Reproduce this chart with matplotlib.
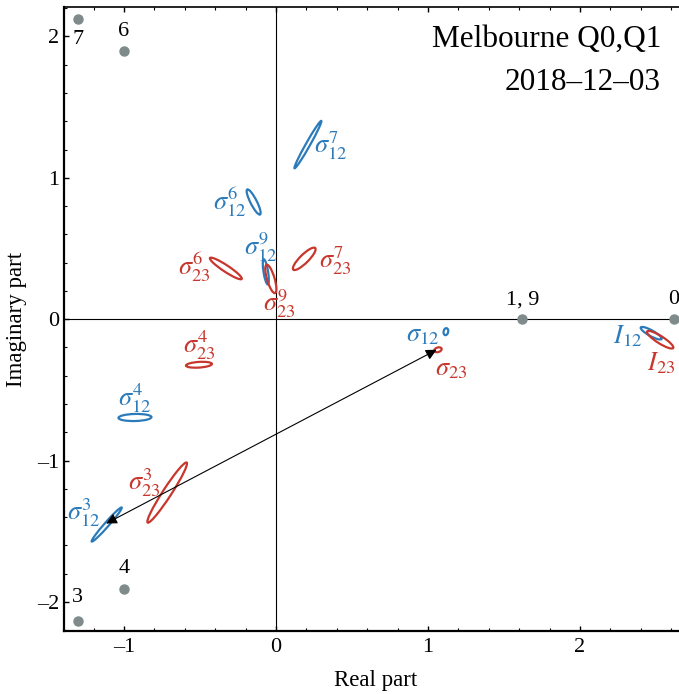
import numpy as np
import matplotlib
matplotlib.use('Agg')
import matplotlib.pyplot as plt
from matplotlib.patches import Ellipse

plt.rcParams['font.family'] = ['Liberation Serif', 'DejaVu Serif']
plt.rcParams['mathtext.fontset'] = 'stix'

#%% data
# reference points (gray dots)
pt_names = ['7', '6', '4', '3', '1, 9', '0']
pt_re = [-1.305, -1.0, -1.0, -1.305, 1.618, 2.618]
pt_im = [2.125, 1.895, -1.905, -2.135, 0.0, 0.0]

# sigma_12 group (blue): centre, major length, minor length, angle (deg)
b_names = [r'$\sigma_{12}^{7}$', r'$\sigma_{12}^{6}$', r'$\sigma_{12}^{9}$',
           r'$\sigma_{12}^{4}$', r'$\sigma_{12}^{3}$', r'$\sigma_{12}$', r'$I_{12}$']
b_re = [0.21, -0.147, -0.067, -0.928, -1.114, 1.118, 2.469]
b_im = [1.235, 0.829, 0.335, -0.695, -1.452, -0.088, -0.099]
b_len = [0.378, 0.196, 0.179, 0.217, 0.311, 0.05, 0.159]
b_wid = [0.028, 0.042, 0.03, 0.05, 0.03, 0.03, 0.04]
b_ang = [62.3, -64.7, -81.6, 1.5, 50.7, 80.0, -31.0]

# sigma_23 group (red)
r_names = [r'$\sigma_{23}^{7}$', r'$\sigma_{23}^{6}$', r'$\sigma_{23}^{9}$',
           r'$\sigma_{23}^{4}$', r'$\sigma_{23}^{3}$', r'$\sigma_{23}$', r'$I_{23}$']
r_re = [0.186, -0.33, -0.034, -0.507, -0.716, 1.066, 2.528]
r_im = [0.427, 0.359, 0.285, -0.322, -1.226, -0.216, -0.145]
r_len = [0.21, 0.256, 0.208, 0.171, 0.496, 0.05, 0.2075]
r_wid = [0.058, 0.045, 0.05, 0.04, 0.058, 0.032, 0.05]
r_ang = [47.0, -35.5, -74.7, 4.0, 58.9, 20.0, -34.5]

# label positions
pt_lab_x = [-1.305, -1.0, -1.0, -1.305, 1.625, 2.618]
pt_lab_y = [1.978, 2.036, -1.766, -1.97, 0.138, 0.138]
b_lab_x = [0.362, -0.303, -0.1, -0.928, -1.268, 0.967, 2.312]
b_lab_y = [1.228, 0.824, 0.506, -0.556, -1.37, -0.12, -0.12]
r_lab_x = [0.388, -0.539, 0.02, -0.507, -0.868, 1.156, 2.533]
r_lab_y = [0.418, 0.364, 0.113, -0.184, -1.157, -0.36, -0.31]

arrow_from = (-1.118, -1.445)
arrow_to = (1.057, -0.216)

xtick_vals = [-1, 0, 1, 2]
ytick_vals = [-2, -1, 0, 1, 2]

blue = '#2b7bba'
red = '#c8372d'
gray = '#7f8b8b'

#%% figure
fig = plt.figure(figsize=(6.79, 6.94), dpi=100)
ax = fig.add_axes([64/679, 63/694, 1 - 64/679, (631 - 7.3)/694])

ax.axhline(0, color='black', lw=0.8, zorder=1)
ax.axvline(0, color='black', lw=0.8, zorder=1)

ax.plot(pt_re, pt_im, 'o', color=gray, ms=6.5, zorder=3, clip_on=False)
for s, x, y in zip(pt_names, pt_lab_x, pt_lab_y):
    ax.text(x, y, s, fontsize=16, ha='center', va='center')

for x, y, L, W, a in zip(b_re, b_im, b_len, b_wid, b_ang):
    ax.add_patch(Ellipse((x, y), L, W, angle=a, fill=False, ec=blue, lw=1.6, zorder=2))
for x, y, L, W, a in zip(r_re, r_im, r_len, r_wid, r_ang):
    ax.add_patch(Ellipse((x, y), L, W, angle=a, fill=False, ec=red, lw=1.6, zorder=2))

for s, x, y in zip(b_names, b_lab_x, b_lab_y):
    ax.text(x, y, s, color=blue, fontsize=19, ha='center', va='center')
for s, x, y in zip(r_names, r_lab_x, r_lab_y):
    ax.text(x, y, s, color=red, fontsize=19, ha='center', va='center')

ax.annotate('', xy=arrow_to, xytext=arrow_from,
            arrowprops=dict(arrowstyle='<|-|>', color='black', lw=0.8,
                            mutation_scale=16, shrinkA=0, shrinkB=0))

ax.text(2.533, 1.929, 'Melbourne Q0,Q1', ha='right', va='baseline', fontsize=22.5)
ax.text(2.533, 1.624, '2018\u201312\u201303', ha='right', va='baseline', fontsize=22.5)

ax.set_xlim(-1.395, 2.652)
ax.set_ylim(-2.205, 2.206)
ax.set_xticks(xtick_vals)
ax.set_xticklabels([str(v).replace('-', '\u2013') for v in xtick_vals])
ax.set_yticks(ytick_vals)
ax.set_yticklabels([str(v).replace('-', '\u2013') for v in ytick_vals])
ax.set_xticks(np.arange(-1.2, 2.61, 0.2), minor=True)
ax.set_yticks(np.arange(-2.2, 2.21, 0.2), minor=True)
ax.tick_params(which='both', direction='in', top=True, right=False, labelsize=16)
ax.tick_params(which='major', length=3.5, width=1)
ax.tick_params(axis='x', which='major', pad=5)
ax.tick_params(which='minor', length=2, width=0.8)
ax.spines['right'].set_visible(False)
for sp in ['left', 'bottom']:
    ax.spines[sp].set_linewidth(1.6)
ax.spines['top'].set_linewidth(1.2)

ax.set_xlabel('Real part', fontsize=16.5, va='top')
ax.set_ylabel('Imaginary part', fontsize=16.5)
ax.xaxis.set_label_coords(0.506, -0.062)
ax.yaxis.set_label_coords(-0.06, 0.5)

fig.savefig('out.png', dpi=100)
